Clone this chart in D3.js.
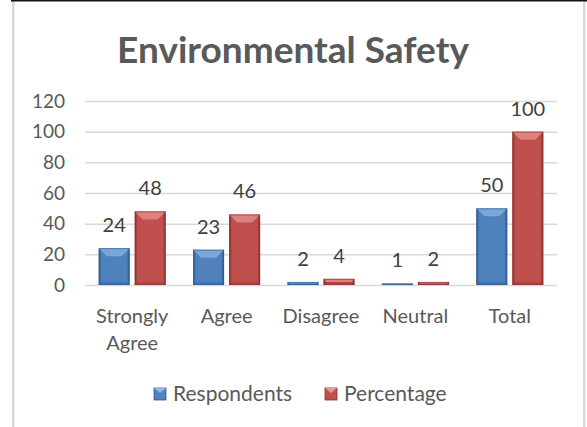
<!DOCTYPE html>
<html>
<head>
<meta charset="utf-8">
<script src="https://cdn.jsdelivr.net/npm/d3@7"></script>
<style>
  body { margin: 0; background: #fff; }
  svg { display: block; font-family: Lato, "Open Sans", sans-serif; }
</style>
</head>
<body>
<div id="chart"></div>
<script>
let categories = ["Strongly Agree", "Agree", "Disagree", "Neutral", "Total"];
let respondents = [24, 23, 2, 1, 50];
let percentage = [48, 46, 4, 2, 100];
let seriesNames = ["Respondents", "Percentage"];
let yTicks = [0, 20, 40, 60, 80, 100, 120];

let W = 587, H = 427;
let palette = {
  Respondents: { mid: "#4f81bd", light: "#8fb6e6", dark: "#2d5a8e" },
  Percentage: { mid: "#c0504d", light: "#e89593", dark: "#8c2e2c" }
};

let svg = d3.select("#chart").append("svg")
  .attr("width", W)
  .attr("height", H);

// frame of the screenshot
svg.append("rect").attr("x", 12).attr("y", 0).attr("width", 2.5).attr("height", H).attr("fill", "#d9d9d9");
svg.append("rect").attr("x", 583).attr("y", 0).attr("width", 2.5).attr("height", H).attr("fill", "#d9d9d9");
svg.append("rect").attr("x", 11).attr("y", 0).attr("width", 576).attr("height", 1.5).attr("fill", "#111");

svg.append("text")
  .attr("x", 293)
  .attr("y", 63)
  .attr("text-anchor", "middle")
  .attr("font-size", 37)
  .attr("font-weight", "bold")
  .attr("fill", "#595959")
  .text("Environmental Safety");

let x0 = d3.scaleBand()
  .domain(categories)
  .range([85, 557])
  .paddingInner(0.29)
  .paddingOuter(0.145);

let x1 = d3.scaleBand()
  .domain(seriesNames)
  .range([0, x0.bandwidth()])
  .paddingInner(0.14);

let y = d3.scaleLinear()
  .domain([0, 120])
  .range([285, 101]);

// gridlines
let yAxis = d3.axisLeft(y)
  .tickValues(yTicks)
  .tickSize(-(557 - 85))
  .tickPadding(20);

let ag = svg.append("g")
  .attr("transform", "translate(85,0)")
  .call(yAxis);
ag.select(".domain").remove();
ag.selectAll(".tick line").attr("stroke", "#d9d9d9").attr("stroke-width", 1.5);
ag.selectAll(".tick text")
  .attr("font-size", 19)
  .attr("font-family", "Lato, sans-serif")
  .attr("fill", "#595959");

// gradients
let defs = svg.append("defs");
seriesNames.forEach(s => {
  let c = palette[s];
  let g = defs.append("linearGradient").attr("id", "grad-" + s).attr("x1", "0").attr("x2", "1").attr("y1", "0").attr("y2", "0");
  g.append("stop").attr("offset", "0%").attr("stop-color", c.dark);
  g.append("stop").attr("offset", "10%").attr("stop-color", c.mid);
  g.append("stop").attr("offset", "90%").attr("stop-color", c.mid);
  g.append("stop").attr("offset", "100%").attr("stop-color", c.dark);
});

let rows = categories.map((c, i) => ({ cat: c, values: [
  { s: "Respondents", v: respondents[i] },
  { s: "Percentage", v: percentage[i] }
]}));

let groups = svg.selectAll(".cat")
  .data(rows)
  .enter().append("g")
  .attr("class", "cat")
  .attr("transform", d => "translate(" + x0(d.cat) + ",0)");

let bars = groups.selectAll(".bar")
  .data(d => d.values)
  .enter().append("g")
  .attr("class", "bar");

bars.append("rect")
  .attr("x", d => x1(d.s))
  .attr("y", d => y(d.v))
  .attr("width", x1.bandwidth())
  .attr("height", d => y(0) - y(d.v))
  .attr("fill", d => "url(#grad-" + d.s + ")");

// bevel top
bars.append("path")
  .attr("d", d => {
    let bx = x1(d.s), bw = x1.bandwidth(), top = y(d.v), h = y(0) - y(d.v);
    let b = Math.min(8, h / 2);
    return "M" + bx + "," + top + "L" + (bx + bw) + "," + top + "L" + (bx + bw - b) + "," + (top + b) + "L" + (bx + b) + "," + (top + b) + "Z";
  })
  .attr("fill", d => palette[d.s].light)
  .attr("opacity", 0.7);

// bevel bottom
bars.append("path")
  .attr("d", d => {
    let bx = x1(d.s), bw = x1.bandwidth(), h = y(0) - y(d.v);
    let b = Math.min(3, h / 2);
    let bot = y(0);
    return "M" + bx + "," + bot + "L" + (bx + bw) + "," + bot + "L" + (bx + bw - b) + "," + (bot - b) + "L" + (bx + b) + "," + (bot - b) + "Z";
  })
  .attr("fill", d => palette[d.s].dark)
  .attr("opacity", 0.35);

bars.append("rect")
  .attr("x", d => x1(d.s) + 0.5)
  .attr("y", d => y(d.v) + 0.5)
  .attr("width", x1.bandwidth() - 1)
  .attr("height", d => Math.max(0, y(0) - y(d.v) - 1))
  .attr("fill", "none")
  .attr("stroke", d => palette[d.s].dark)
  .attr("stroke-width", 1)
  .attr("stroke-opacity", 0.6);

// value labels
bars.append("text")
  .attr("x", d => x1(d.s) + x1.bandwidth() / 2)
  .attr("y", d => y(d.v) - 16)
  .attr("text-anchor", "middle")
  .attr("font-size", 20)
  .attr("fill", "#404040")
  .text(d => d.v);

// category labels
let xAxis = d3.axisBottom(x0).tickSize(0).tickPadding(0);
let xg = svg.append("g")
  .attr("transform", "translate(0,285)")
  .call(xAxis);
xg.select(".domain").remove();
xg.selectAll(".tick text")
  .attr("font-size", 20)
  .attr("font-family", "Lato, sans-serif")
  .attr("fill", "#595959")
  .attr("dy", null)
  .attr("y", 38)
  .each(function (d) {
    let t = d3.select(this);
    let words = d.split(" ");
    if (words.length > 1 && this.getComputedTextLength() > x0.step() - 10) {
      t.text(null);
      words.forEach((w, i) => {
        t.append("tspan").attr("x", 0).attr("y", 38 + i * 27).text(w);
      });
    }
  });

// legend
let legend = svg.append("g");
let lx = [154, 325];
seriesNames.forEach((s, i) => {
  let c = palette[s];
  legend.append("rect")
    .attr("x", lx[i]).attr("y", 388)
    .attr("width", 12).attr("height", 12)
    .attr("fill", c.mid).attr("stroke", c.dark).attr("stroke-width", 0.8);
  legend.append("path")
    .attr("d", "M" + lx[i] + ",388L" + (lx[i] + 12) + ",388L" + (lx[i] + 6) + ",393Z")
    .attr("fill", c.light);
  legend.append("text")
    .attr("x", lx[i] + 19).attr("y", 401)
    .attr("font-size", 21)
    .attr("fill", "#595959")
    .text(s);
});
</script>
</body>
</html>
